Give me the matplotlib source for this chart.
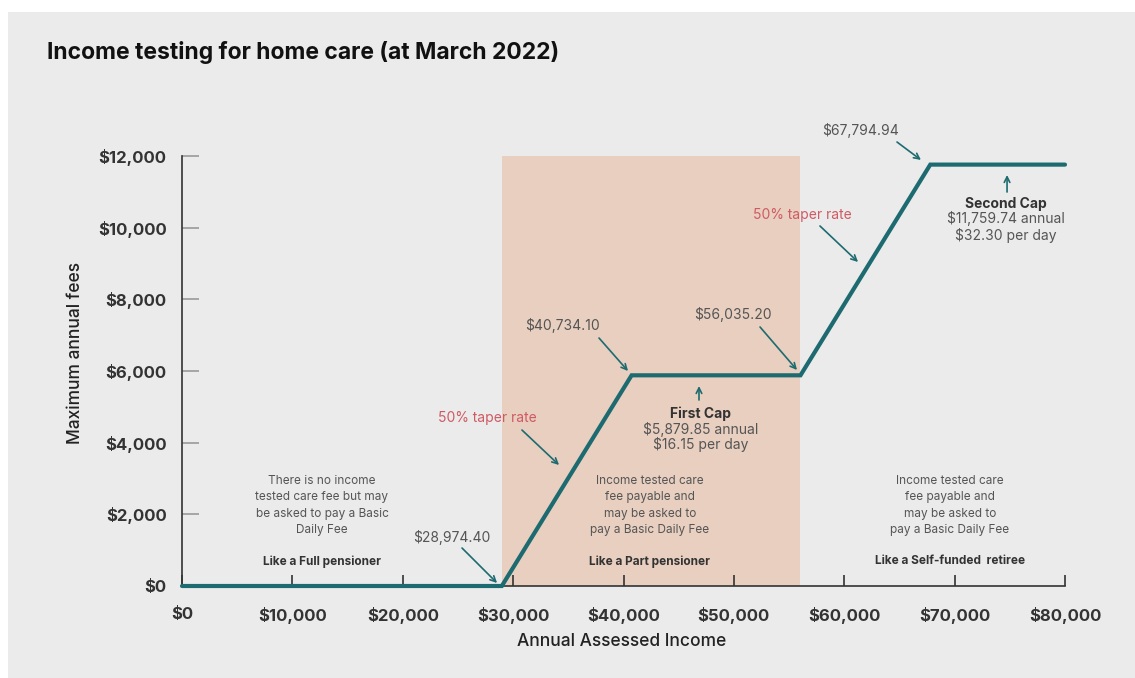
import matplotlib
matplotlib.use("Agg")
import matplotlib.pyplot as plt
from matplotlib.patches import Rectangle
from matplotlib.ticker import FuncFormatter

plt.rcParams['font.family'] = ['Inter', 'DejaVu Sans']

# fee schedule breakpoints (annual assessed income -> maximum annual fee)
income = [0, 28974.40, 40734.10, 56035.20, 67794.94, 80000]
fee = [0, 0, 5879.85, 5879.85, 11759.74, 11759.74]

x_ticks = [0, 10000, 20000, 30000, 40000, 50000, 60000, 70000, 80000]
y_ticks = [0, 2000, 4000, 6000, 8000, 10000, 12000]

first_cap = ["First Cap", "$5,879.85 annual", "$16.15 per day"]
second_cap = ["Second Cap", "$11,759.74 annual", "$32.30 per day"]

groups = ["Like a Full pensioner", "Like a Part pensioner", "Like a Self-funded  retiree"]
group_notes = [
    "There is no income\ntested care fee but may\nbe asked to pay a Basic\nDaily Fee",
    "Income tested care\nfee payable and\nmay be asked to\npay a Basic Daily Fee",
    "Income tested care\nfee payable and\nmay be asked to\npay a Basic Daily Fee",
]

TEAL = "#1d6b70"
SHADE = "#e8cfc0"
BG = "#ebebeb"
GREY_TXT = "#555555"
RED_TXT = "#cf5a63"

W, H = 1135, 678
fig = plt.figure(figsize=(W / 100, H / 100), dpi=100)
fig.patch.set_facecolor("white")
fig.patches.append(Rectangle((8 / W, 0), 1, 1 - 12 / H, transform=fig.transFigure,
                             facecolor=BG, edgecolor="none", zorder=-10))

ax = fig.add_axes([182 / W, 1 - 586 / H, (1065 - 182) / W, (586 - 156) / H])
ax.set_facecolor("none")
ax.set_xlim(0, 80000)
ax.set_ylim(0, 12000)

# part pensioner band
ax.axvspan(income[1], income[3], ymin=0, ymax=1, color=SHADE, zorder=0, lw=0)

ax.plot(income, fee, color=TEAL, lw=3.0, solid_capstyle="round",
        solid_joinstyle="miter", zorder=5, clip_on=False)

for s in ["top", "right"]:
    ax.spines[s].set_visible(False)
ax.spines["left"].set_color("#333333")
ax.spines["bottom"].set_color("#333333")
ax.spines["left"].set_linewidth(1.2)
ax.spines["bottom"].set_linewidth(1.2)

money = FuncFormatter(lambda v, p: "${:,.0f}".format(v))
ax.set_xticks(x_ticks)
ax.set_yticks(y_ticks)
ax.xaxis.set_major_formatter(money)
ax.yaxis.set_major_formatter(money)
ax.tick_params(axis="y", direction="in", length=12, width=1.2, color="#9a9a9a",
               pad=11, labelsize=12, labelcolor="#333333")
ax.tick_params(axis="x", direction="in", length=8, width=1.2, color="#333333",
               pad=15, labelsize=12, labelcolor="#333333")
for lab in ax.get_xticklabels() + ax.get_yticklabels():
    lab.set_fontweight("bold")

fig.text(47 / W, 1 - 53 / H, "Income testing for home care (at March 2022)",
         fontsize=16.5, fontweight="bold", color="#111111", va="center", ha="left")
fig.text(75 / W, 1 - 353 / H, "Maximum annual fees", rotation=90,
         fontsize=12.5, fontweight="medium", color="#222222", ha="center", va="center")
fig.text(622 / W, 1 - 642 / H, "Annual Assessed Income",
         fontsize=12.5, fontweight="medium", color="#222222", ha="center", va="center")

arrow = dict(arrowstyle="->", color=TEAL, lw=1.2, shrinkA=0, shrinkB=0)

# breakpoint labels with arrows pointing at the corners
corner_labels = [
    (1, "${:,.2f}".format(income[1]), (24460, 1340), (25370, 1060), (-430, 84)),
    (2, "${:,.2f}".format(income[2]), (34430, 7256), (37780, 6921), (-325, 120)),
    (3, "${:,.2f}".format(income[3]), (49920, 7563), (52370, 7228), (-315, 148)),
    (4, "${:,.2f}".format(income[4]), (61430, 12700), (64780, 12390), (-845, 130)),
]
for i, txt, tpos, tail, off in corner_labels:
    ax.text(tpos[0], tpos[1], txt, fontsize=10, color=GREY_TXT, ha="center", va="center")
    ax.annotate("", xy=(income[i] + off[0], fee[i] + off[1]), xytext=tail,
                arrowprops=arrow, annotation_clip=False)

# taper rate labels
for tpos, tail, head in [((27630, 4688), (30800, 4353), (34160, 3377)),
                         ((56170, 10353), (57800, 10047), (61250, 9042))]:
    ax.text(tpos[0], tpos[1], "50% taper rate", fontsize=10, color=RED_TXT,
            ha="center", va="center")
    ax.annotate("", xy=head, xytext=tail, arrowprops=arrow, annotation_clip=False)

# cap notes
for lines, x, ys, arr in [(first_cap, 47000, (4800, 4381, 3935), (46840, 5191, 5581)),
                          (second_cap, 74650, (10660, 10242, 9795), (74750, 10995, 11470))]:
    ax.annotate("", xy=(arr[0], arr[2]), xytext=(arr[0], arr[1]),
                arrowprops=arrow, annotation_clip=False)
    ax.text(x, ys[0], lines[0], fontsize=10, fontweight="bold", color="#333333",
            ha="center", va="center")
    for ln, yy in zip(lines[1:], ys[1:]):
        ax.text(x, yy, ln, fontsize=10, color=GREY_TXT, ha="center", va="center")

# group descriptions along the bottom
for gx, note, name in zip([12680, 42400, 69580], group_notes, groups):
    ax.text(gx, 2246, note, fontsize=8.5, color=GREY_TXT, ha="center", va="center",
            linespacing=1.5)
    ax.text(gx, 690, name, fontsize=8.5, fontweight="bold", color="#333333",
            ha="center", va="center")

fig.savefig("out.png", dpi=100, facecolor=fig.get_facecolor())
